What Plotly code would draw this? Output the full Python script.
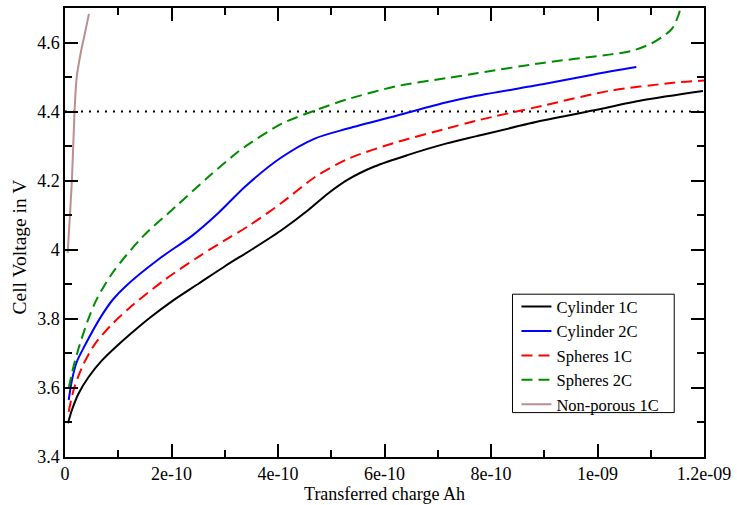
import plotly.graph_objects as go

# Transferred charge (Ah) and cell voltage (V) per series
cyl1_x = [0.056e-10, 0.13e-10, 0.255e-10, 0.44e-10, 0.69e-10, 1.0e-10, 1.31e-10, 1.6e-10, 2.0e-10,
          2.52e-10, 3.01e-10, 3.50e-10, 4.05e-10, 4.57e-10, 4.94e-10, 5.31e-10, 5.81e-10, 6.43e-10,
          7.17e-10, 7.73e-10, 8.97e-10, 9.91e-10, 10.84e-10, 11.98e-10]
cyl1_y = [3.498, 3.536, 3.584, 3.631, 3.679, 3.725, 3.767, 3.804, 3.850,
          3.903, 3.953, 4.000, 4.055, 4.115, 4.163, 4.203, 4.241, 4.274,
          4.308, 4.329, 4.374, 4.403, 4.433, 4.460]

cyl2_x = [0.07e-10, 0.13e-10, 0.22e-10, 0.37e-10, 0.65e-10, 0.90e-10, 1.15e-10, 1.77e-10, 2.39e-10,
          2.89e-10, 3.39e-10, 4.04e-10, 4.69e-10, 5.31e-10, 6.24e-10, 7.17e-10, 7.73e-10, 8.97e-10,
          9.91e-10, 10.73e-10]
cyl2_y = [3.565, 3.622, 3.675, 3.722, 3.800, 3.856, 3.896, 3.974, 4.041,
          4.108, 4.184, 4.265, 4.322, 4.351, 4.389, 4.427, 4.446, 4.479,
          4.507, 4.529]

sph1_x = [0.07e-10, 0.16e-10, 0.32e-10, 0.56e-10, 0.88e-10, 1.22e-10, 1.89e-10, 2.52e-10, 3.07e-10,
          3.45e-10, 4.07e-10, 4.69e-10, 5.31e-10, 6.24e-10, 7.17e-10, 7.73e-10, 8.97e-10, 10.22e-10,
          11.46e-10, 12.0e-10]
sph1_y = [3.531, 3.593, 3.660, 3.727, 3.784, 3.833, 3.915, 3.981, 4.034,
          4.069, 4.136, 4.210, 4.263, 4.312, 4.351, 4.374, 4.417, 4.460,
          4.484, 4.490]

sph2_x = [0.07e-10, 0.16e-10, 0.28e-10, 0.44e-10, 0.59e-10, 0.90e-10, 1.46e-10, 2.08e-10, 2.70e-10,
          3.26e-10, 3.45e-10, 4.07e-10, 4.69e-10, 5.31e-10, 6.24e-10, 7.17e-10, 7.73e-10, 8.97e-10,
          10.22e-10, 10.65e-10, 11.02e-10, 11.27e-10, 11.40e-10, 11.52e-10, 11.55e-10]
sph2_y = [3.600, 3.662, 3.727, 3.800, 3.855, 3.935, 4.038, 4.125, 4.212,
          4.285, 4.306, 4.365, 4.403, 4.436, 4.474, 4.497, 4.511, 4.541,
          4.565, 4.576, 4.598, 4.622, 4.640, 4.679, 4.695]

np1_x = [0.05e-10, 0.13e-10, 0.18e-10, 0.22e-10, 0.30e-10, 0.36e-10, 0.45e-10]
np1_y = [3.991, 4.203, 4.403, 4.500, 4.574, 4.617, 4.683]

limit_v = 4.4

x_tickvals = [0, 2e-10, 4e-10, 6e-10, 8e-10, 1e-9, 1.2e-9]
x_ticktext = ["0", "2e-10", "4e-10", "6e-10", "8e-10", "1e-09", "1.2e-09"]
y_tickvals = [3.4, 3.6, 3.8, 4.0, 4.2, 4.4, 4.6]
y_ticktext = ["3.4", "3.6", "3.8", "4", "4.2", "4.4", "4.6"]

FONT = "Liberation Serif"
DASH = "11px,6px"

fig = go.Figure()
series = [
    ("Cylinder 1C", cyl1_x, cyl1_y, "black", "solid"),
    ("Cylinder 2C", cyl2_x, cyl2_y, "#0000ff", "solid"),
    ("Spheres 1C", sph1_x, sph1_y, "#ff0000", DASH),
    ("Spheres 2C", sph2_x, sph2_y, "#008c00", DASH),
    ("Non-porous 1C", np1_x, np1_y, "#bc8f8f", "solid"),
]
for name, xs, ys, col, dash in series:
    fig.add_trace(go.Scatter(x=xs, y=ys, mode="lines", name=name,
                             line=dict(color=col, width=2, dash=dash, shape="spline", smoothing=0.8)))

fig.add_hline(y=limit_v, line=dict(color="black", width=2, dash="2px,6px"), layer="below")

# legend frame (drawn as a paper-referenced box)
fig.add_shape(type="rect", xref="paper", yref="paper", x0=0.7003, x1=0.9534, y0=0.0989, y1=0.3626,
              line=dict(color="black", width=1), fillcolor="white", layer="above")

axis_common = dict(
    showgrid=False, zeroline=False, showline=True, linecolor="black", linewidth=1.5,
    mirror="allticks", ticks="inside", ticklen=13, tickwidth=1.5, tickcolor="black",
    tickfont=dict(family=FONT, size=18, color="black"),
)
fig.update_xaxes(**axis_common, range=[0, 1.2e-9], tickmode="array",
                 tickvals=x_tickvals, ticktext=x_ticktext,
                 minor=dict(ticks="inside", ticklen=7, tickwidth=1.5, tickcolor="black", dtick=1e-10, tick0=0),
                 title=dict(text="Transferred charge Ah", font=dict(family=FONT, size=18, color="black"), standoff=2))
fig.update_yaxes(**axis_common, range=[3.4, 4.7], tickmode="array",
                 tickvals=y_tickvals, ticktext=y_ticktext,
                 minor=dict(ticks="inside", ticklen=7, tickwidth=1.5, tickcolor="black", dtick=0.1, tick0=3.4))

fig.add_annotation(text="Cell Voltage in V", xref="paper", yref="paper", x=-0.071, y=0.468,
                   xanchor="center", yanchor="middle", textangle=-90, showarrow=False,
                   font=dict(family=FONT, size=19.5, color="black"))

fig.update_layout(
    width=737, height=505,
    margin=dict(l=65, r=28, t=6, b=44),
    plot_bgcolor="white", paper_bgcolor="white",
    font=dict(family=FONT, size=18, color="black"),
    legend=dict(x=0.7065, y=0.3736, xanchor="left", yanchor="top",
                borderwidth=0, bgcolor="rgba(0,0,0,0)",
                font=dict(family=FONT, size=16.5, color="black"), tracegroupgap=0),
    showlegend=True,
)

fig.write_html("out.html")
